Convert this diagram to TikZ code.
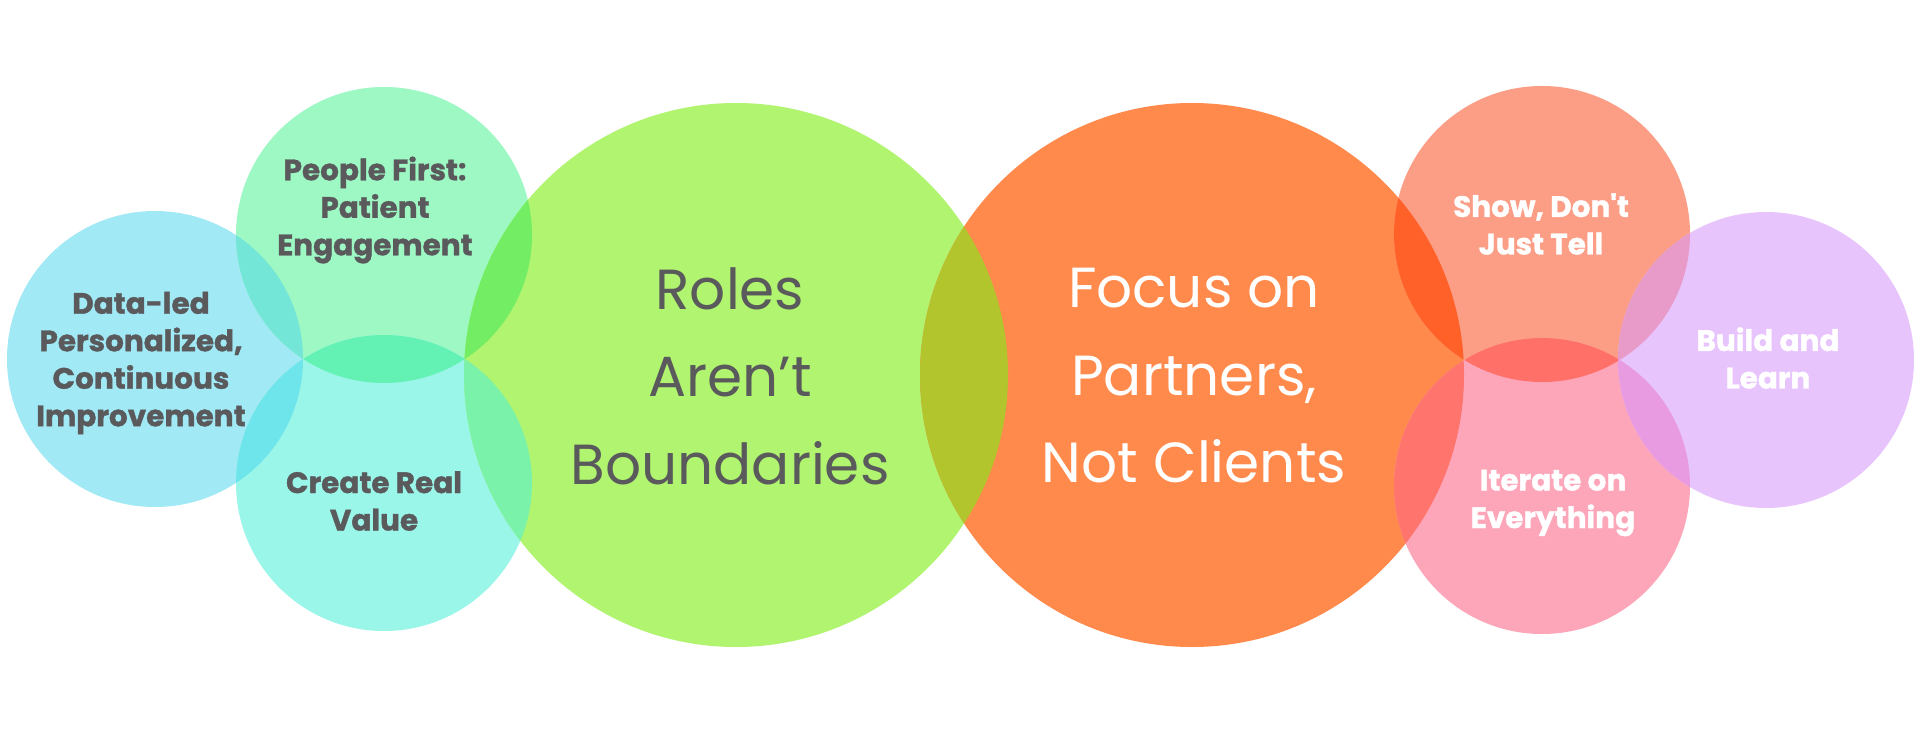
\documentclass[tikz,border=0pt]{standalone}
\usepackage{fontspec}
\newfontfamily\popfont{Poppins}[BoldFeatures={FakeBold=1.2}]
\definecolor{textgray}{RGB}{90,90,92}
\definecolor{cBlue}{RGB}{160,233,245}
\definecolor{cPF}{RGB}{157,248,196}
\definecolor{cCR}{RGB}{155,246,234}
\definecolor{cGreen}{RGB}{176,244,112}
\definecolor{cOrange}{RGB}{255,138,75}
\definecolor{cShow}{RGB}{252,157,134}
\definecolor{cIter}{RGB}{253,166,186}
\definecolor{cBuild}{RGB}{232,196,253}
\definecolor{oBluePF}{RGB}{115,230,215}
\definecolor{oBlueCR}{RGB}{110,228,235}
\definecolor{oPFCR}{RGB}{100,242,180}
\definecolor{oPFGreen}{RGB}{115,238,100}
\definecolor{oCRGreen}{RGB}{122,242,170}
\definecolor{oGreenOrange}{RGB}{178,197,45}
\definecolor{oOrangeShow}{RGB}{255,97,40}
\definecolor{oOrangeIter}{RGB}{255,117,110}
\definecolor{oShowIter}{RGB}{255,112,104}
\definecolor{oShowBuild}{RGB}{232,155,200}
\definecolor{oIterBuild}{RGB}{232,155,225}
\begin{document}
\begin{tikzpicture}[x=1pt,y=-1pt,
  smalltxt/.style={font=\popfont\bfseries\fontsize{29.5}{37.5}\selectfont, align=center, inner sep=0pt},
  bigtxt/.style={font=\popfont\fontsize{56.5}{87.5}\selectfont, align=center, inner sep=0pt},
  darktxt/.style={text=textgray},
  lighttxt/.style={text=white},
  sr/.style={radius=148pt},
  br/.style={radius=272pt}]
\fill[white] (0,0) rectangle (1920,736);
\useasboundingbox (0,0) rectangle (1920,736);
% centres
\coordinate (cblue) at (155,359);
\coordinate (cpf) at (384,235);
\coordinate (ccr) at (384,483);
\coordinate (cgreen) at (736,375);
\coordinate (corange) at (1192,375);
\coordinate (cshow) at (1542,234);
\coordinate (citer) at (1542,486);
\coordinate (cbuild) at (1766,360);
% circles
\fill[cBlue] (cblue) circle[sr];
\fill[cPF] (cpf) circle[sr];
\fill[cCR] (ccr) circle[sr];
\fill[cGreen] (cgreen) circle[br];
\fill[cOrange] (corange) circle[br];
\fill[cShow] (cshow) circle[sr];
\fill[cIter] (citer) circle[sr];
\fill[cBuild] (cbuild) circle[sr];
% overlaps
\begin{scope}\clip (cblue) circle[sr]; \fill[oBluePF] (cpf) circle[sr]; \end{scope}
\begin{scope}\clip (cblue) circle[sr]; \fill[oBlueCR] (ccr) circle[sr]; \end{scope}
\begin{scope}\clip (cpf) circle[sr]; \fill[oPFCR] (ccr) circle[sr]; \end{scope}
\begin{scope}\clip (cpf) circle[sr]; \fill[oPFGreen] (cgreen) circle[br]; \end{scope}
\begin{scope}\clip (ccr) circle[sr]; \fill[oCRGreen] (cgreen) circle[br]; \end{scope}
\begin{scope}\clip (cgreen) circle[br]; \fill[oGreenOrange] (corange) circle[br]; \end{scope}
\begin{scope}\clip (corange) circle[br]; \fill[oOrangeShow] (cshow) circle[sr]; \end{scope}
\begin{scope}\clip (corange) circle[br]; \fill[oOrangeIter] (citer) circle[sr]; \end{scope}
\begin{scope}\clip (cshow) circle[sr]; \fill[oShowIter] (citer) circle[sr]; \end{scope}
\begin{scope}\clip (cshow) circle[sr]; \fill[oShowBuild] (cbuild) circle[sr]; \end{scope}
\begin{scope}\clip (citer) circle[sr]; \fill[oIterBuild] (cbuild) circle[sr]; \end{scope}
% texts
\node[smalltxt,darktxt] (tdata) at (141,363) {Data-led\\Personalized,\\Continuous\\Improvement};
\node[smalltxt,darktxt] (tpf) at (375,210) {People First:\\Patient\\Engagement};
\node[smalltxt,darktxt] (tcr) at (374,501) {Create Real\\Value};
\node[bigtxt,darktxt] (troles) at (730,376) {Roles\\Aren’t\\Boundaries};
\node[bigtxt,lighttxt] (tfocus) at (1194,376) {Focus on\\Partners,\\Not Clients};
\node[smalltxt,lighttxt] (tshow) at (1541,224) {Show, Don\textquotesingle t\\Just Tell};
\node[smalltxt,lighttxt] (tbuild) at (1768,358) {Build and\\Learn};
\node[smalltxt,lighttxt] (titer) at (1553,503) {Iterate on\\Everything};
\end{tikzpicture}
\end{document}
